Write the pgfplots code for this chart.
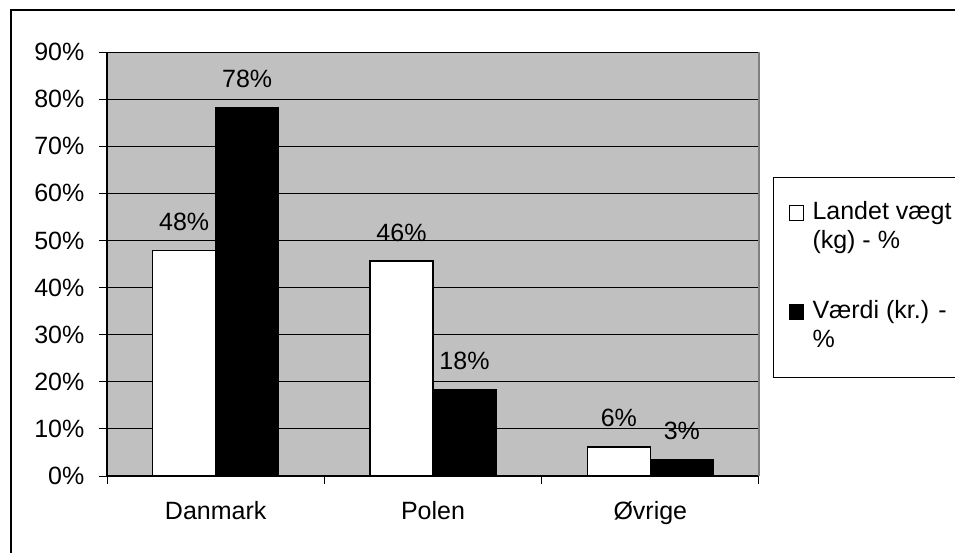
\documentclass[border=0pt]{standalone}
\usepackage{pgfplots}
\pgfplotsset{compat=1.18}
\usepackage{fontspec}
\setmainfont{Liberation Sans}
\definecolor{plotgray}{HTML}{C0C0C0}
\definecolor{bordergray}{HTML}{808080}
\newcommand{\chartfont}{\fontsize{12.5}{15}\selectfont}
\begin{document}
\begin{tikzpicture}[font=\chartfont]
\draw[line width=1pt] (5.5pt,-276.5pt) -- (5.5pt,-5pt) -- (477.5pt,-5pt);
\begin{axis}[
  at={(53.5pt,-238pt)}, anchor=south west,
  scale only axis, width=326pt, height=212pt,
  ybar=0pt, bar width=0.29,
  xmin=-0.5, xmax=2.5, ymin=0, ymax=90,
  axis background/.style={fill=plotgray},
  axis x line*=bottom, axis y line*=left,
  axis line style={black, line width=0.6pt, -},
  tick align=outside,
  major tick length=4pt, minor tick length=4pt,
  xtick={0,1,2}, xticklabels={Danmark,Polen,Øvrige},
  minor xtick={-0.5,0.5,1.5,2.5},
  major x tick style={draw=none},
  minor x tick style={black, line width=0.5pt},
  ytick={0,10,...,90},
  yticklabel={\pgfmathprintnumber{\tick}\%},
  y tick style={black, line width=0.5pt},
  ymajorgrids, grid style={black, line width=0.5pt},
  /pgf/number format/assume math mode=true,
  tick label style={font=\chartfont},
  xticklabel style={yshift=-5.3pt},
  yticklabel style={xshift=-3.8pt},
  nodes near coords={\pgfmathprintnumber[fixed,precision=0]{\pgfplotspointmeta}\%},
  every node near coord/.append style={anchor=base, inner sep=0pt, yshift=10pt, font=\chartfont},
  legend style={at={(1.0215,0.7052)}, anchor=north west, draw=black, line width=0.5pt, fill=white,
    inner xsep=7.5pt, inner ysep=11.9pt, row sep=23.3pt, column sep=4.5pt,
    nodes={inner sep=0pt}, cells={anchor=base west}, font=\chartfont},
  after end axis/.code={\draw[bordergray, line width=0.6pt] (rel axis cs:1,0) -- (rel axis cs:1,1);},
]
\addplot[fill=white, draw=black, line width=0.75pt,
  legend image code/.code={\draw[fill=white, draw=black, line width=0.5pt] (0pt,-0.5pt) rectangle (7pt,7pt);}]
  coordinates {(0,47.9) (1,45.6) (2,6.2)};
\addlegendentry[text height=9.1pt, text depth=17.1pt]{\parbox[t]{85pt}{\baselineskip=14.5pt Landet vægt\\(kg) - \%}}
\addplot[fill=black, draw=black, line width=0.75pt,
  legend image code/.code={\draw[fill=black, draw=black, line width=0.5pt] (0pt,-0.5pt) rectangle (7pt,7pt);}]
  coordinates {(0,78.2) (1,18.3) (2,3.4)};
\addlegendentry[text height=9.1pt, text depth=17.6pt]{\parbox[t]{85pt}{\baselineskip=14.5pt Værdi (kr.) -\\\%}}
\end{axis}
\pgfresetboundingbox
\path[use as bounding box] (0,0) rectangle (477.5pt,-276.5pt);
\end{tikzpicture}
\end{document}
